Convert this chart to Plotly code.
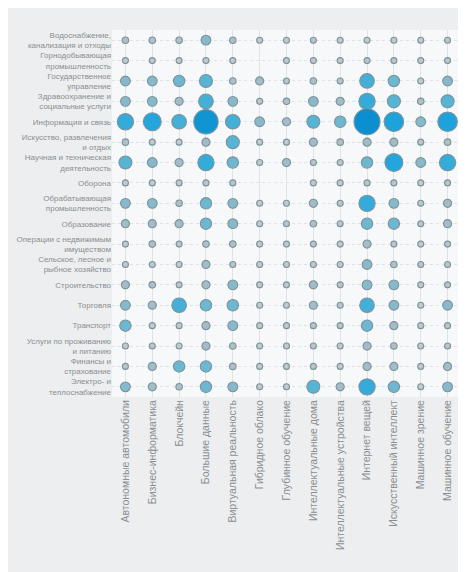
import plotly.graph_objects as go

industries = [
    "Водоснабжение, канализация и отходы",
    "Горнодобывающая промышленность",
    "Государственное управление",
    "Здравоохранение и социальные услуги",
    "Информация и связь",
    "Искусство, развлечения и отдых",
    "Научная и техническая деятельность",
    "Оборона",
    "Обрабатывающая промышленность",
    "Образование",
    "Операции с недвижимым имуществом",
    "Сельское, лесное и рыбное хозяйство",
    "Строительство",
    "Торговля",
    "Транспорт",
    "Услуги по проживанию и питанию",
    "Финансы и страхование",
    "Электро- и теплоснабжение",
]
industry_labels = [
    "Водоснабжение,<br>канализация и отходы",
    "Горнодобывающая<br>промышленность",
    "Государственное<br>управление",
    "Здравоохранение и<br>социальные услуги",
    "Информация и связь",
    "Искусство, развлечения<br>и отдых",
    "Научная и техническая<br>деятельность",
    "Оборона",
    "Обрабатывающая<br>промышленность",
    "Образование",
    "Операции с недвижимым<br>имуществом",
    "Сельское, лесное и<br>рыбное хозяйство",
    "Строительство",
    "Торговля",
    "Транспорт",
    "Услуги по проживанию<br>и питанию",
    "Финансы и<br>страхование",
    "Электро- и<br>теплоснабжение",
]
technologies = [
    "Автономные автомобили",
    "Бизнес-информатика",
    "Блокчейн",
    "Большие данные",
    "Виртуальная реальность",
    "Гибридное облако",
    "Глубинное обучение",
    "Интеллектуальные дома",
    "Интеллектуальные устройства",
    "Интернет вещей",
    "Искусственный интеллект",
    "Машинное зрение",
    "Машинное обучение",
]

# estimated intensity per industry (rows) x technology (columns)
v_water      = [2, 2, 2, 3, 2, 1, 1, 1.5, 1, 1, 1, 1, 1.5]
v_mining     = [1, 1, 1, 1, 1, 0, 1, 1, 1, 1.5, 1.5, 1, 1.5]
v_government = [3, 3, 3.5, 4, 2, 2.5, 1.5, 2, 1.5, 4.5, 3.5, 1, 3]
v_health     = [3, 3, 2.5, 4.5, 3, 1, 2, 3, 2.5, 5, 4, 2, 4]
v_info       = [5, 5.5, 4.5, 7.5, 4.5, 3, 2.5, 4, 3.5, 8, 6, 3, 6]
v_arts       = [2, 1, 1, 2.5, 4, 1, 1, 2.5, 2, 2.5, 2.5, 1.5, 2]
v_science    = [4, 3, 2.5, 5, 3.5, 1, 2.5, 1.5, 1.5, 3.5, 5.5, 3, 5]
v_defense    = [1, 1, 1, 1.5, 1.5, 0, 0, 1, 1, 1.5, 1.5, 1, 1.5]
v_manufact   = [3, 3, 2, 3.5, 3, 1, 1, 2.5, 1.5, 5, 3, 1.5, 2.5]
v_education  = [2.5, 2.5, 2.5, 3.5, 3, 1, 1.5, 2, 1.5, 3.5, 3.5, 1.5, 2.5]
v_realestate = [1, 2, 1.5, 2, 2, 1, 1, 1.5, 1, 2.5, 1.5, 1, 1.5]
v_agri       = [1, 1, 1, 2.5, 1.5, 1, 1, 1, 1, 3, 2, 1.5, 1.5]
v_construct  = [2.5, 2, 1.5, 2.5, 3, 1, 1, 2.5, 1.5, 3, 3, 1, 1.5]
v_trade      = [3, 2.5, 4.5, 3.5, 3.5, 1, 1, 2.5, 1.5, 4.5, 3, 1, 3]
v_transport  = [3.5, 1, 1, 2.5, 3, 1, 1, 1.5, 1.5, 3.5, 2.5, 1, 1.5]
v_hospitality= [1, 1.5, 1, 2.5, 2, 1, 1, 1.5, 1, 2.5, 2, 1, 1.5]
v_finance    = [1.5, 2.5, 3.5, 3.5, 2, 1, 1, 1.5, 1, 2.5, 2.5, 1, 2.5]
v_energy     = [3, 2.5, 2, 3.5, 3, 1, 1, 4, 2.5, 5, 3.5, 1, 3]

matrix = [v_water, v_mining, v_government, v_health, v_info, v_arts, v_science,
          v_defense, v_manufact, v_education, v_realestate, v_agri, v_construct,
          v_trade, v_transport, v_hospitality, v_finance, v_energy]

xs, ys, vals = [], [], []
for ind, row in zip(industries, matrix):
    for tech, v in zip(technologies, row):
        if v > 0:
            xs.append(tech)
            ys.append(ind)
            vals.append(v)

vmax = max(vals)

fig = go.Figure(go.Scatter(
    x=xs, y=ys, mode="markers",
    marker=dict(
        size=vals, sizemode="diameter", sizeref=vmax / 26, sizemin=3,
        color=vals,
        colorscale=[[0, "#c3c8cb"], [0.2, "#a9bcc4"], [0.4, "#5db6d4"], [0.65, "#22a6dc"], [1, "#0b8fd0"]],
        cmin=1, cmax=vmax,
        line=dict(color="#7a939d", width=1.1),
        opacity=1,
    ),
    hoverinfo="x+y",
))

fig.update_layout(
    width=466, height=572,
    margin=dict(l=104, r=13, t=22, b=183),
    paper_bgcolor="#eceeef",
    plot_bgcolor="#f7f8f9",
    showlegend=False,
    font=dict(family="Liberation Sans, Arial, sans-serif", color="#8a8f93"),
)
fig.update_xaxes(
    type="category", categoryorder="array", categoryarray=technologies,
    range=[-0.5, len(technologies) - 0.5], automargin=False,
    tickangle=-90, tickfont=dict(size=10.5, color="#8a8f93"),
    showgrid=True, gridcolor="#dfe3e5", gridwidth=1,
    zeroline=False, showline=False, ticks="",
)
fig.update_yaxes(
    type="category", categoryorder="array", categoryarray=industries,
    tickmode="array", tickvals=industries, ticktext=industry_labels,
    range=[len(industries) - 0.5, -0.5], automargin=False,
    tickfont=dict(size=8, color="#8a8f93"),
    showgrid=True, gridcolor="#dfe3e5", gridwidth=1, griddash="dot",
    zeroline=False, showline=False, ticks="",
)

fig.write_html("out.html")
